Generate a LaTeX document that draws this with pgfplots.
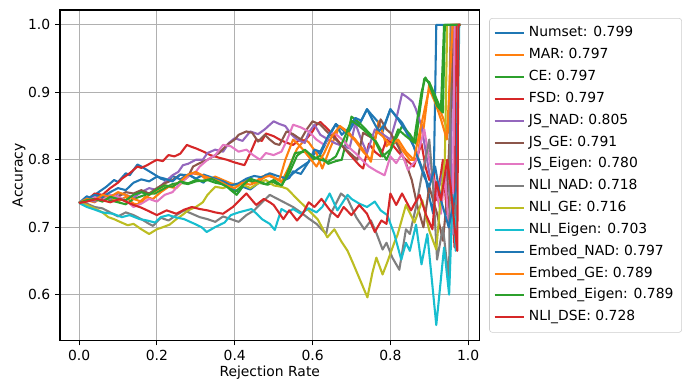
\documentclass[border=0pt]{standalone}
\usepackage{pgfplots}
\pgfplotsset{compat=1.18}
\usepackage{fontspec}
\setmainfont{DejaVu Sans}
\definecolor{c0}{HTML}{1F77B4}
\definecolor{c1}{HTML}{FF7F0E}
\definecolor{c2}{HTML}{2CA02C}
\definecolor{c3}{HTML}{D62728}
\definecolor{c4}{HTML}{9467BD}
\definecolor{c5}{HTML}{8C564B}
\definecolor{c6}{HTML}{E377C2}
\definecolor{c7}{HTML}{7F7F7F}
\definecolor{c8}{HTML}{BCBD22}
\definecolor{c9}{HTML}{17BECF}
\definecolor{gridc}{HTML}{B0B0B0}
\begin{document}
\begin{tikzpicture}
\path[use as bounding box] (-43.2pt,-36pt) rectangle (455pt,245.2pt);
\begin{axis}[
  scale only axis, width=302pt, height=238pt,
  xmin=-0.049, xmax=1.029, ymin=0.532, ymax=1.022,
  xtick={0,0.2,0.4,0.6,0.8,1.0}, ytick={0.6,0.7,0.8,0.9,1.0},
  xticklabel style={/pgf/number format/.cd,fixed,fixed zerofill,precision=1},
  yticklabel style={/pgf/number format/.cd,fixed,fixed zerofill,precision=1},
  /pgf/number format/assume math mode=true,
  tick label style={font=\fontsize{10}{12}\selectfont},
  label style={font=\fontsize{10}{12}\selectfont},
  xlabel={Rejection Rate}, ylabel={Accuracy},
  xlabel style={yshift=3pt}, ylabel style={yshift=-5pt},
  grid=major, major grid style={gridc, line width=0.8pt},
  axis line style={line width=0.8pt}, tick style={line width=0.8pt, black},
  tick align=outside, major tick length=3.5pt,
  xtick pos=bottom, ytick pos=left,
  every axis plot/.append style={line width=1.5pt, line join=round},
  legend style={at={(1,1)}, anchor=north west, xshift=7pt, yshift=-5.8pt,
    draw=black!20, rounded corners=2pt, font=\fontsize{10}{12}\selectfont,
    row sep=0pt, inner xsep=3pt, inner ysep=3pt,
    nodes={text height=7.5pt, text depth=2.42pt, inner sep=2.9pt}},
  legend cell align=left,
  legend image code/.code={\draw[#1] (0pt,0pt) -- (21pt,0pt);},
]
\addplot[c0] coordinates {(0,0.736)(0.02,0.746)(0.03,0.743)(0.05,0.752)(0.07,0.760)(0.09,0.770)(0.10,0.767)(0.12,0.780)(0.13,0.777)(0.15,0.793)(0.16,0.790)(0.18,0.783)(0.20,0.776)(0.21,0.772)(0.23,0.768)(0.24,0.776)(0.26,0.771)(0.28,0.778)(0.30,0.772)(0.32,0.766)(0.33,0.774)(0.35,0.770)(0.37,0.764)(0.39,0.758)(0.41,0.752)(0.42,0.760)(0.44,0.756)(0.46,0.765)(0.48,0.778)(0.50,0.774)(0.52,0.768)(0.54,0.773)(0.55,0.783)(0.57,0.779)(0.59,0.797)(0.61,0.813)(0.62,0.808)(0.64,0.832)(0.66,0.853)(0.67,0.848)(0.69,0.838)(0.71,0.858)(0.72,0.852)(0.74,0.875)(0.75,0.868)(0.77,0.855)(0.78,0.842)(0.80,0.875)(0.81,0.868)(0.83,0.855)(0.85,0.835)(0.87,0.805)(0.89,0.775)(0.90,0.745)(0.91,0.720)(0.918,1.0)(0.98,1.0)};
\addlegendentry{Numset: 0.799}
\addplot[c1] coordinates {(0,0.736)(0.02,0.740)(0.04,0.737)(0.06,0.745)(0.08,0.742)(0.10,0.738)(0.12,0.745)(0.14,0.735)(0.15,0.734)(0.17,0.745)(0.19,0.742)(0.21,0.752)(0.23,0.760)(0.25,0.758)(0.27,0.770)(0.29,0.780)(0.31,0.778)(0.33,0.770)(0.35,0.775)(0.37,0.770)(0.39,0.765)(0.41,0.763)(0.43,0.770)(0.45,0.766)(0.47,0.775)(0.49,0.778)(0.50,0.774)(0.52,0.767)(0.54,0.790)(0.56,0.816)(0.58,0.830)(0.59,0.826)(0.61,0.810)(0.625,0.787)(0.645,0.817)(0.67,0.850)(0.69,0.842)(0.71,0.830)(0.73,0.815)(0.75,0.797)(0.76,0.830)(0.77,0.857)(0.78,0.840)(0.79,0.820)(0.81,0.833)(0.83,0.815)(0.85,0.800)(0.87,0.800)(0.88,0.853)(0.885,0.845)(0.90,0.913)(0.91,0.895)(0.93,0.870)(0.95,0.840)(0.955,1.0)(0.98,1.0)};
\addlegendentry{MAR: 0.797}
\addplot[c2] coordinates {(0,0.736)(0.02,0.742)(0.04,0.740)(0.06,0.745)(0.08,0.740)(0.10,0.737)(0.12,0.734)(0.14,0.742)(0.16,0.746)(0.18,0.750)(0.195,0.750)(0.22,0.758)(0.24,0.764)(0.26,0.766)(0.28,0.764)(0.30,0.768)(0.33,0.770)(0.35,0.766)(0.375,0.763)(0.39,0.755)(0.405,0.748)(0.42,0.760)(0.435,0.770)(0.45,0.767)(0.47,0.765)(0.485,0.763)(0.50,0.767)(0.52,0.760)(0.54,0.787)(0.555,0.810)(0.58,0.812)(0.60,0.800)(0.62,0.806)(0.64,0.794)(0.66,0.798)(0.675,0.800)(0.69,0.835)(0.70,0.864)(0.72,0.855)(0.75,0.837)(0.76,0.830)(0.79,0.800)(0.81,0.826)(0.83,0.850)(0.85,0.838)(0.865,0.824)(0.875,0.870)(0.887,0.920)(0.90,0.915)(0.915,0.895)(0.93,0.875)(0.938,1.0)(0.98,1.0)};
\addlegendentry{CE: 0.797}
\addplot[c3] coordinates {(0,0.736)(0.02,0.740)(0.04,0.750)(0.06,0.748)(0.08,0.758)(0.10,0.766)(0.11,0.772)(0.13,0.780)(0.15,0.790)(0.16,0.788)(0.175,0.792)(0.19,0.797)(0.20,0.800)(0.215,0.798)(0.23,0.807)(0.245,0.805)(0.26,0.809)(0.277,0.822)(0.29,0.819)(0.30,0.817)(0.32,0.812)(0.337,0.807)(0.36,0.803)(0.38,0.800)(0.40,0.796)(0.425,0.792)(0.44,0.810)(0.455,0.830)(0.47,0.828)(0.48,0.839)(0.50,0.835)(0.515,0.830)(0.53,0.826)(0.55,0.822)(0.567,0.830)(0.58,0.828)(0.60,0.842)(0.61,0.852)(0.62,0.856)(0.64,0.845)(0.66,0.832)(0.68,0.818)(0.70,0.805)(0.72,0.792)(0.73,0.787)(0.745,0.824)(0.76,0.812)(0.775,0.805)(0.79,0.830)(0.80,0.826)(0.82,0.812)(0.84,0.800)(0.86,0.790)(0.88,0.824)(0.89,0.790)(0.90,0.770)(0.91,0.785)(0.92,0.740)(0.935,0.800)(0.945,0.720)(0.955,0.760)(0.965,0.670)(0.969,1.0)(0.98,1.0)};
\addlegendentry{FSD: 0.797}
\addplot[c4] coordinates {(0,0.736)(0.02,0.742)(0.04,0.738)(0.06,0.745)(0.08,0.742)(0.10,0.750)(0.12,0.748)(0.14,0.744)(0.16,0.752)(0.18,0.758)(0.20,0.755)(0.215,0.764)(0.24,0.777)(0.255,0.782)(0.267,0.792)(0.28,0.794)(0.30,0.800)(0.318,0.800)(0.33,0.810)(0.35,0.815)(0.37,0.812)(0.385,0.825)(0.40,0.832)(0.42,0.828)(0.44,0.842)(0.46,0.838)(0.477,0.845)(0.50,0.857)(0.515,0.853)(0.53,0.850)(0.545,0.838)(0.56,0.830)(0.58,0.825)(0.59,0.840)(0.605,0.852)(0.62,0.837)(0.64,0.830)(0.66,0.824)(0.68,0.820)(0.695,0.817)(0.71,0.854)(0.725,0.830)(0.74,0.810)(0.76,0.845)(0.78,0.838)(0.80,0.830)(0.815,0.860)(0.83,0.898)(0.845,0.892)(0.857,0.886)(0.865,0.876)(0.88,0.850)(0.89,0.815)(0.90,0.780)(0.92,0.750)(0.94,0.790)(0.955,0.740)(0.96,1.0)(0.98,1.0)};
\addlegendentry{JS\_NAD: 0.805}
\addplot[c5] coordinates {(0,0.736)(0.02,0.740)(0.04,0.745)(0.06,0.742)(0.08,0.748)(0.10,0.745)(0.12,0.752)(0.14,0.750)(0.16,0.755)(0.18,0.750)(0.20,0.758)(0.22,0.765)(0.24,0.770)(0.26,0.778)(0.28,0.775)(0.293,0.790)(0.31,0.795)(0.33,0.800)(0.345,0.805)(0.36,0.810)(0.38,0.822)(0.40,0.830)(0.41,0.837)(0.43,0.842)(0.445,0.840)(0.46,0.827)(0.477,0.837)(0.49,0.830)(0.503,0.824)(0.515,0.822)(0.533,0.842)(0.55,0.838)(0.57,0.830)(0.585,0.845)(0.60,0.857)(0.62,0.852)(0.64,0.840)(0.66,0.830)(0.68,0.818)(0.70,0.808)(0.715,0.800)(0.73,0.840)(0.745,0.835)(0.76,0.830)(0.775,0.860)(0.79,0.845)(0.80,0.840)(0.82,0.820)(0.84,0.795)(0.855,0.770)(0.87,0.730)(0.885,0.700)(0.90,0.760)(0.92,0.720)(0.935,0.680)(0.945,0.740)(0.965,1.0)(0.98,1.0)};
\addlegendentry{JS\_GE: 0.791}
\addplot[c6] coordinates {(0,0.736)(0.02,0.742)(0.04,0.745)(0.06,0.740)(0.08,0.748)(0.10,0.745)(0.12,0.740)(0.14,0.730)(0.16,0.735)(0.18,0.742)(0.20,0.738)(0.22,0.748)(0.24,0.752)(0.26,0.765)(0.28,0.775)(0.30,0.782)(0.31,0.790)(0.33,0.800)(0.35,0.807)(0.37,0.822)(0.39,0.820)(0.41,0.812)(0.43,0.815)(0.447,0.807)(0.465,0.800)(0.48,0.810)(0.50,0.807)(0.52,0.812)(0.535,0.830)(0.55,0.852)(0.57,0.848)(0.59,0.842)(0.61,0.830)(0.63,0.822)(0.645,0.840)(0.66,0.838)(0.68,0.828)(0.70,0.815)(0.71,0.810)(0.73,0.798)(0.745,0.790)(0.765,0.783)(0.785,0.777)(0.80,0.805)(0.815,0.795)(0.83,0.809)(0.845,0.785)(0.867,0.800)(0.887,0.845)(0.90,0.800)(0.915,0.760)(0.93,0.720)(0.94,0.780)(0.95,0.700)(0.96,0.690)(0.965,1.0)(0.98,1.0)};
\addlegendentry{JS\_Eigen: 0.780}
\addplot[c7] coordinates {(0,0.736)(0.02,0.735)(0.04,0.730)(0.06,0.728)(0.08,0.722)(0.10,0.716)(0.12,0.722)(0.14,0.718)(0.16,0.712)(0.18,0.705)(0.19,0.702)(0.21,0.714)(0.23,0.710)(0.25,0.718)(0.27,0.725)(0.29,0.720)(0.31,0.715)(0.33,0.712)(0.35,0.708)(0.37,0.716)(0.39,0.712)(0.41,0.708)(0.43,0.718)(0.45,0.725)(0.465,0.734)(0.49,0.748)(0.51,0.742)(0.53,0.736)(0.55,0.730)(0.57,0.722)(0.59,0.713)(0.61,0.705)(0.635,0.690)(0.645,0.718)(0.66,0.735)(0.673,0.750)(0.69,0.742)(0.712,0.715)(0.733,0.697)(0.75,0.710)(0.765,0.690)(0.78,0.667)(0.79,0.677)(0.805,0.655)(0.823,0.637)(0.84,0.697)(0.85,0.690)(0.867,0.733)(0.88,0.775)(0.89,0.800)(0.90,0.830)(0.91,0.760)(0.92,0.652)(0.935,0.700)(0.951,0.618)(0.955,1.0)(0.98,1.0)};
\addlegendentry{NLI\_NAD: 0.718}
\addplot[c8] coordinates {(0,0.736)(0.02,0.733)(0.04,0.728)(0.06,0.722)(0.075,0.715)(0.09,0.712)(0.105,0.708)(0.125,0.703)(0.14,0.705)(0.16,0.697)(0.18,0.690)(0.20,0.697)(0.215,0.700)(0.233,0.704)(0.25,0.712)(0.265,0.718)(0.28,0.725)(0.30,0.730)(0.318,0.737)(0.33,0.748)(0.35,0.760)(0.37,0.758)(0.39,0.762)(0.418,0.764)(0.44,0.758)(0.46,0.765)(0.48,0.770)(0.50,0.762)(0.52,0.760)(0.535,0.757)(0.56,0.742)(0.587,0.727)(0.613,0.712)(0.638,0.685)(0.656,0.697)(0.675,0.678)(0.69,0.665)(0.703,0.648)(0.725,0.618)(0.741,0.596)(0.754,0.633)(0.764,0.655)(0.78,0.630)(0.792,0.648)(0.81,0.677)(0.818,0.688)(0.84,0.733)(0.862,0.707)(0.882,0.740)(0.90,0.695)(0.918,0.667)(0.93,0.748)(0.94,0.800)(0.946,1.0)(0.98,1.0)};
\addlegendentry{NLI\_GE: 0.716}
\addplot[c9] coordinates {(0,0.736)(0.02,0.730)(0.036,0.727)(0.06,0.722)(0.087,0.720)(0.11,0.715)(0.13,0.718)(0.156,0.712)(0.175,0.710)(0.195,0.707)(0.21,0.715)(0.23,0.718)(0.246,0.715)(0.27,0.712)(0.297,0.705)(0.315,0.700)(0.328,0.693)(0.349,0.700)(0.374,0.707)(0.39,0.718)(0.41,0.722)(0.443,0.727)(0.46,0.718)(0.47,0.712)(0.49,0.705)(0.503,0.696)(0.52,0.727)(0.535,0.722)(0.55,0.727)(0.57,0.720)(0.59,0.728)(0.61,0.722)(0.625,0.730)(0.644,0.750)(0.664,0.725)(0.69,0.748)(0.70,0.742)(0.72,0.735)(0.74,0.730)(0.76,0.738)(0.775,0.725)(0.792,0.718)(0.81,0.690)(0.828,0.652)(0.84,0.677)(0.85,0.665)(0.866,0.704)(0.88,0.645)(0.895,0.690)(0.918,0.555)(0.938,0.670)(0.951,0.600)(0.96,0.748)(0.968,0.665)(0.977,1.0)(0.98,1.0)};
\addlegendentry{NLI\_Eigen: 0.703}
\addplot[c0] coordinates {(0,0.736)(0.02,0.742)(0.04,0.748)(0.06,0.745)(0.08,0.752)(0.10,0.758)(0.12,0.755)(0.14,0.766)(0.16,0.771)(0.18,0.768)(0.20,0.775)(0.22,0.772)(0.24,0.768)(0.26,0.778)(0.285,0.777)(0.30,0.772)(0.32,0.778)(0.35,0.772)(0.37,0.768)(0.39,0.762)(0.41,0.765)(0.43,0.772)(0.45,0.776)(0.47,0.774)(0.49,0.780)(0.51,0.776)(0.535,0.772)(0.56,0.785)(0.59,0.797)(0.605,0.815)(0.62,0.812)(0.64,0.835)(0.66,0.853)(0.675,0.837)(0.69,0.845)(0.71,0.862)(0.725,0.858)(0.74,0.875)(0.755,0.858)(0.77,0.842)(0.785,0.852)(0.80,0.875)(0.82,0.860)(0.84,0.842)(0.86,0.820)(0.887,0.775)(0.90,0.760)(0.915,0.790)(0.93,0.740)(0.95,0.700)(0.97,0.760)(0.975,1.0)(0.98,1.0)};
\addlegendentry{Embed\_NAD: 0.797}
\addplot[c1] coordinates {(0,0.736)(0.02,0.742)(0.04,0.740)(0.06,0.748)(0.08,0.745)(0.10,0.752)(0.12,0.748)(0.14,0.742)(0.16,0.738)(0.18,0.748)(0.20,0.755)(0.22,0.762)(0.24,0.760)(0.26,0.768)(0.28,0.778)(0.30,0.782)(0.32,0.776)(0.34,0.772)(0.36,0.768)(0.38,0.762)(0.40,0.758)(0.42,0.766)(0.44,0.763)(0.46,0.768)(0.48,0.775)(0.49,0.776)(0.515,0.770)(0.53,0.800)(0.55,0.830)(0.565,0.822)(0.58,0.812)(0.61,0.790)(0.63,0.810)(0.65,0.835)(0.67,0.850)(0.69,0.840)(0.71,0.828)(0.73,0.812)(0.75,0.800)(0.765,0.842)(0.78,0.835)(0.80,0.822)(0.82,0.830)(0.84,0.812)(0.86,0.800)(0.875,0.840)(0.89,0.880)(0.90,0.905)(0.915,0.885)(0.93,0.860)(0.945,0.830)(0.96,1.0)(0.98,1.0)};
\addlegendentry{Embed\_GE: 0.789}
\addplot[c2] coordinates {(0,0.736)(0.02,0.740)(0.04,0.742)(0.06,0.738)(0.08,0.745)(0.10,0.742)(0.12,0.740)(0.14,0.748)(0.16,0.752)(0.18,0.748)(0.20,0.756)(0.22,0.762)(0.24,0.760)(0.26,0.768)(0.28,0.765)(0.30,0.770)(0.32,0.768)(0.34,0.772)(0.36,0.766)(0.38,0.760)(0.40,0.752)(0.42,0.762)(0.44,0.772)(0.46,0.768)(0.48,0.764)(0.50,0.770)(0.52,0.762)(0.54,0.780)(0.56,0.806)(0.58,0.815)(0.60,0.805)(0.62,0.800)(0.64,0.797)(0.66,0.805)(0.68,0.830)(0.70,0.858)(0.72,0.850)(0.74,0.840)(0.76,0.828)(0.78,0.805)(0.80,0.815)(0.82,0.845)(0.84,0.835)(0.86,0.826)(0.88,0.900)(0.89,0.922)(0.90,0.912)(0.92,0.880)(0.935,0.870)(0.94,1.0)(0.98,1.0)};
\addlegendentry{Embed\_Eigen: 0.789}
\addplot[c3] coordinates {(0,0.736)(0.02,0.738)(0.045,0.742)(0.06,0.740)(0.08,0.737)(0.105,0.742)(0.12,0.738)(0.14,0.733)(0.16,0.729)(0.175,0.725)(0.20,0.718)(0.225,0.725)(0.25,0.720)(0.27,0.726)(0.29,0.730)(0.31,0.727)(0.33,0.725)(0.35,0.722)(0.37,0.720)(0.395,0.730)(0.43,0.750)(0.455,0.733)(0.475,0.742)(0.49,0.737)(0.50,0.733)(0.525,0.712)(0.54,0.725)(0.56,0.710)(0.575,0.720)(0.59,0.737)(0.605,0.730)(0.623,0.742)(0.645,0.725)(0.665,0.715)(0.68,0.730)(0.70,0.718)(0.72,0.733)(0.74,0.720)(0.76,0.693)(0.777,0.710)(0.79,0.705)(0.80,0.750)(0.815,0.733)(0.83,0.750)(0.853,0.725)(0.875,0.748)(0.892,0.718)(0.908,0.697)(0.918,0.767)(0.93,0.740)(0.946,0.800)(0.955,0.760)(0.965,0.700)(0.972,0.665)(0.975,1.0)(0.98,1.0)};
\addlegendentry{NLI\_DSE: 0.728}
\end{axis}
\end{tikzpicture}
\end{document}
